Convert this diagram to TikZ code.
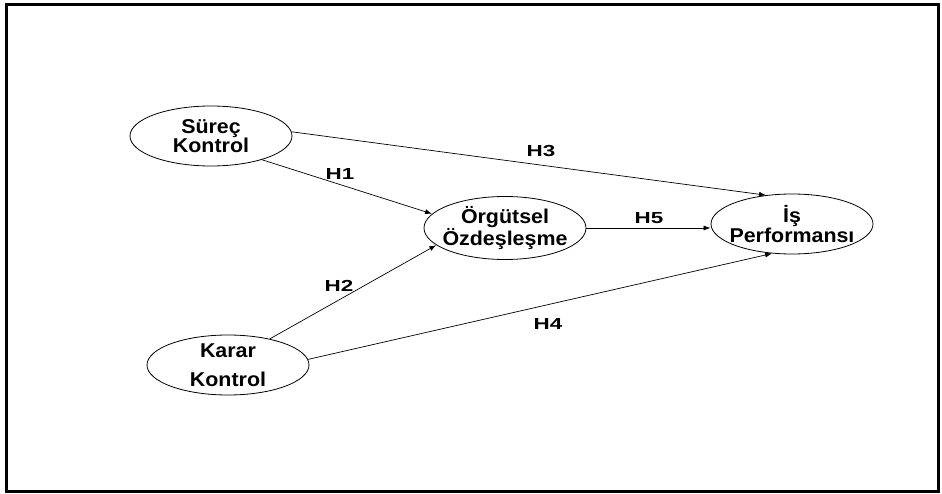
\documentclass[tikz,border=0pt]{standalone}
\usepackage{fontspec}
\setmainfont{Liberation Sans}[FakeStretch=1.07]
\newfontfamily\hypfont{Liberation Sans}[FakeStretch=1.4]
\usepackage{tikz}
\usetikzlibrary{shapes.geometric,arrows.meta}
\tikzset{
    every node/.style={font=\bfseries\fontsize{20}{19.5}\selectfont},
    construct/.style={draw, ellipse, line width=0.8pt, minimum width=162pt, minimum height=60pt, inner xsep=-12pt, inner ysep=-5pt, align=center},
    hyp/.style={font=\hypfont\bfseries\fontsize{16}{16}\selectfont},
    path/.style={-{Latex[length=7pt,width=5pt]}, line width=0.7pt}
}

\begin{document}
\begin{tikzpicture}[x=1pt, y=-1pt]
        \useasboundingbox (0,0) rectangle (942,494);
        \draw[line width=3pt] (6,4.5) rectangle (938,491);

        \node[construct] (surec) at (211,136) {Süreç\\Kontrol};
        \node[construct] (karar) at (228,365) {Karar\\[9pt]Kontrol};
        \node[construct, minimum height=63pt] (orgut) at (505,228) {Örgütsel\\Özdeşleşme};
        \node[construct] (isperf) at (792,224) {İş\\Performansı};

        \node[hyp] (h1) at (340,174) {H1};
        \node[hyp] (h2) at (339,286) {H2};
        \node[hyp] (h3) at (541,151) {H3};
        \node[hyp] (h4) at (548,324) {H4};
        \node[hyp] (h5) at (649,218) {H5};

        \draw[path] (surec.335) -- (orgut.169);
        \draw[path] (karar.32) -- (orgut.194);
        \draw[path] (surec.3) -- (isperf.132);
        \draw[path] (karar.4) -- (isperf.236);
        \draw[path] (orgut.east) -- (orgut.east -| isperf.west);
    \end{tikzpicture}
\end{document}
